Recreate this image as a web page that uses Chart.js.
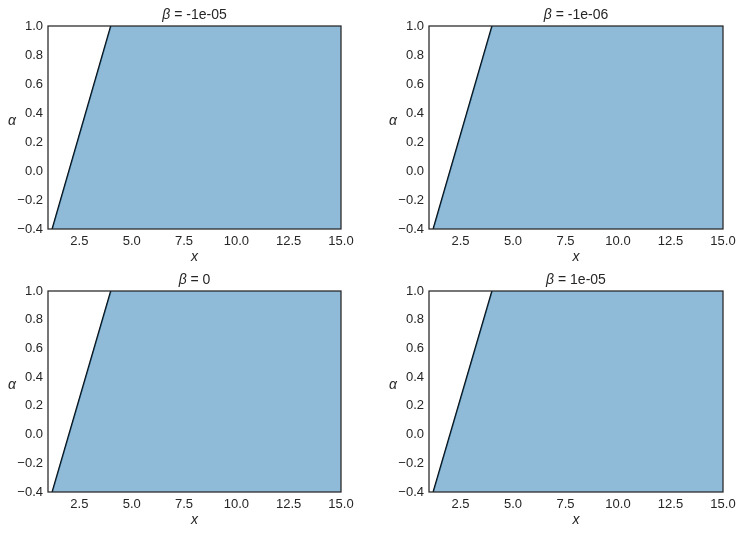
<!DOCTYPE html>
<html>
<head>
<meta charset="utf-8">
<script src="https://cdn.jsdelivr.net/npm/chart.js@4"></script>
<style>
  body { margin: 0; background: #fff; }
  #wrap { position: relative; width: 742px; height: 535px; }
  canvas { position: absolute; left: 0; top: 0; }
</style>
</head>
<body>
<div id="wrap"></div>
<script>
// Data
const betaLabels = ['-1e-05', '-1e-06', '0', '1e-05'];
const boundaryX = [1.2, 4.0];      // x where the boundary line crosses the bottom / top
const boundaryAlpha = [-0.4, 1.0];
const xLimits = [1, 15];
const yLimits = [-0.4, 1.0];
const xTicks = [2.5, 5.0, 7.5, 10.0, 12.5, 15.0];
const yTicks = [-0.4, -0.2, 0.0, 0.2, 0.4, 0.6, 0.8, 1.0];

// Plot areas in the page
const areas = [
    { left: 48, top: 26, right: 341, bottom: 229 },
    { left: 429, top: 26, right: 723, bottom: 229 },
    { left: 48, top: 291, right: 341, bottom: 492 },
    { left: 429, top: 291, right: 723, bottom: 492 }
];

const W = 742, H = 535;
const Y_AXIS_W = 48, X_AXIS_H = 30;
const textColor = '#262626';
const fontFamily = "'Liberation Sans', Arial, sans-serif";

Chart.defaults.font.family = fontFamily;
Chart.defaults.color = textColor;

const fmt = v => v.toFixed(1).replace('-', '\u2212');

// Frame, title and axis labels
const decorations = {
    id: 'decorations',
    afterDatasetsDraw(chart, args, opts) {
        const { ctx, chartArea: a } = chart;
        ctx.save();
        ctx.strokeStyle = textColor;
        ctx.lineWidth = 1.25;
        ctx.strokeRect(a.left, a.top, a.right - a.left, a.bottom - a.top);

        ctx.fillStyle = textColor;
        ctx.textBaseline = 'middle';
        // title: italic beta, then the value
        const cx = (a.left + a.right) / 2;
        const ty = a.top - 11;
        ctx.font = 'italic 14px ' + fontFamily;
        const b = '\u03b2';
        const bw = ctx.measureText(b).width;
        ctx.font = '14px ' + fontFamily;
        const rest = ' = ' + opts.beta;
        const rw = ctx.measureText(rest).width;
        let x0 = cx - (bw + rw) / 2;
        ctx.textAlign = 'left';
        ctx.font = 'italic 14px ' + fontFamily;
        ctx.fillText(b, x0, ty);
        ctx.font = '14px ' + fontFamily;
        ctx.fillText(rest, x0 + bw, ty);

        // x label
        ctx.textAlign = 'center';
        ctx.font = 'italic 14px ' + fontFamily;
        ctx.fillText('x', cx, a.bottom + 28);
        // alpha label
        ctx.fillText('\u03b1', a.left - 36, (a.top + a.bottom) / 2 - 6);
        ctx.restore();
    }
};

const wrap = document.getElementById('wrap');

areas.forEach((area, i) => {
    const canvas = document.createElement('canvas');
    canvas.width = W;
    canvas.height = H;
    canvas.style.width = W + 'px';
    canvas.style.height = H + 'px';
    wrap.appendChild(canvas);

    const linePts = boundaryX.map((x, k) => ({ x, y: boundaryAlpha[k] }));
    // shaded region: right of the boundary, up to the axis limits
    const fillPts = linePts.concat([{ x: xLimits[1], y: yLimits[1] }]);

    new Chart(canvas.getContext('2d'), {
        type: 'line',
        data: {
            datasets: [
                {
                    data: fillPts,
                    fill: 'start',
                    backgroundColor: 'rgba(31, 119, 180, 0.5)',
                    borderWidth: 0,
                    pointRadius: 0,
                    tension: 0
                },
                {
                    data: linePts,
                    fill: false,
                    borderColor: '#000',
                    borderWidth: 1.5,
                    pointRadius: 0,
                    tension: 0
                }
            ]
        },
        options: {
            responsive: false,
            animation: false,
            events: [],
            layout: {
                padding: {
                    left: area.left - Y_AXIS_W,
                    top: area.top,
                    right: W - area.right,
                    bottom: H - area.bottom - X_AXIS_H
                }
            },
            plugins: {
                legend: { display: false },
                tooltip: { enabled: false },
                decorations: { beta: betaLabels[i] }
            },
            scales: {
                x: {
                    type: 'linear',
                    min: xLimits[0],
                    max: xLimits[1],
                    grid: { display: false, drawTicks: false },
                    border: { display: false },
                    afterBuildTicks: s => { s.ticks = xTicks.map(v => ({ value: v })); },
                    afterFit: s => { s.height = X_AXIS_H; },
                    ticks: {
                        padding: 5,
                        maxRotation: 0,
                        autoSkip: false,
                        font: { size: 13 },
                        color: textColor,
                        callback: v => fmt(v)
                    }
                },
                y: {
                    type: 'linear',
                    min: yLimits[0],
                    max: yLimits[1],
                    grid: { display: false, drawTicks: false },
                    border: { display: false },
                    afterBuildTicks: s => { s.ticks = yTicks.map(v => ({ value: v })); },
                    afterFit: s => { s.width = Y_AXIS_W; },
                    ticks: {
                        padding: 5,
                        autoSkip: false,
                        font: { size: 13 },
                        color: textColor,
                        callback: v => fmt(v)
                    }
                }
            }
        },
        plugins: [decorations]
    });
});
</script>
</body>
</html>
